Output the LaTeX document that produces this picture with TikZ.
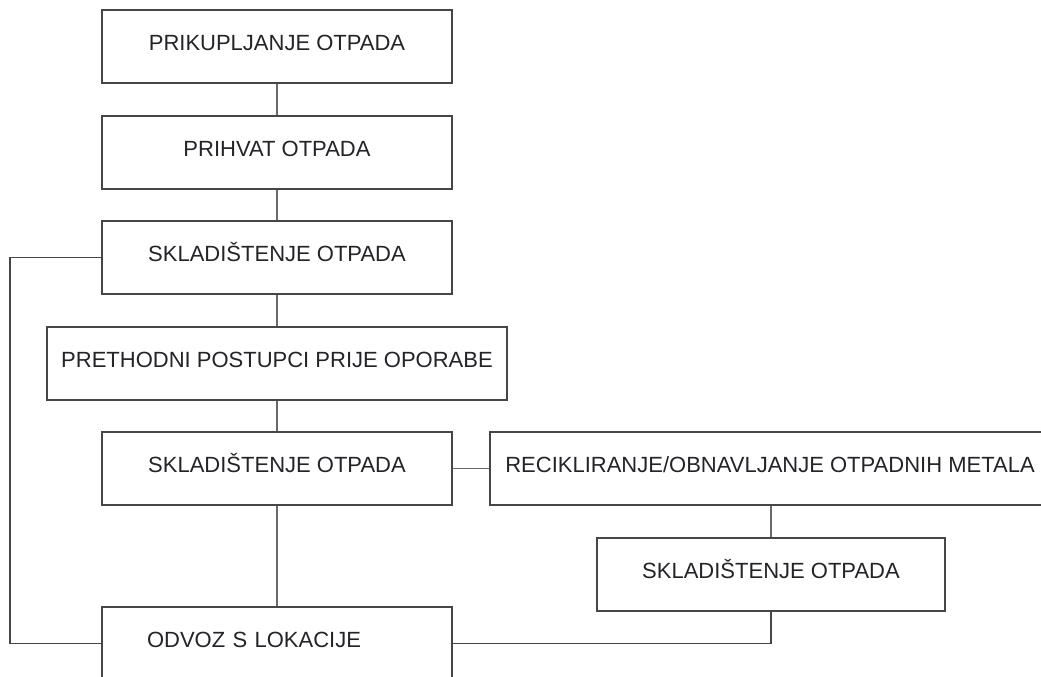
\documentclass[tikz,border=0pt]{standalone}
\usepackage{fontspec}
\setmainfont{Liberation Sans}
\usetikzlibrary{positioning,calc}
\definecolor{boxline}{RGB}{70,70,70}
\definecolor{linkline}{RGB}{105,105,105}
\definecolor{boxtext}{RGB}{35,35,40}

\tikzset{
  stagebox/.style={draw=boxline, line width=1.1pt, rectangle, minimum width=350pt,
    minimum height=73pt, inner sep=0pt, text height=15.8pt, text depth=8pt,
    text=boxtext, font=\fontsize{22pt}{25pt}\selectfont},
  link/.style={draw=linkline, line width=1.1pt}
}

\begin{document}
\begin{tikzpicture}[x=1pt,y=-1pt]
  \useasboundingbox (0,0) rectangle (1041,677);

  % Main chain
  \node[stagebox] (collect) at (277,46.5) {PRIKUPLJANJE OTPADA};
  \node[stagebox] (accept) at (277,152.5) {PRIHVAT OTPADA};
  \node[stagebox] (storeA) at (277,257.5) {SKLADIŠTENJE OTPADA};
  \node[stagebox, minimum width=460pt] (pretreat) at (277,363.5) {PRETHODNI POSTUPCI PRIJE OPORABE};
  \node[stagebox] (storeB) at (277,468.5) {SKLADIŠTENJE OTPADA};

  % Recycling branch
  \node[stagebox, minimum width=560pt] (recycle) at (770,468.5) {RECIKLIRANJE/OBNAVLJANJE OTPADNIH METALA};
  \node[stagebox, minimum width=348pt] (storeC) at (771,574.5) {SKLADIŠTENJE OTPADA};

  % Removal
  \node[stagebox, text width=260pt, align=left] (removal) at (277,643.5) {ODVOZ S LOKACIJE};

  % Connectors
  \draw[link] (collect) -- (accept);
  \draw[link] (accept) -- (storeA);
  \draw[link] (storeA) -- (pretreat);
  \draw[link] (pretreat) -- (storeB);
  \draw[link] (storeB) -- (removal);
  \draw[link] (storeB) -- (recycle);
  \draw[link] (recycle.south -| storeC.north) -- (storeC.north);
  \draw[link, draw=boxline] (storeC.south) |- (removal.east);

  % Left bypass
  \coordinate (bypass) at (10,257.5);
  \draw[link, draw=boxline] (storeA.west) -- (bypass) |- (removal.west);
\end{tikzpicture}
\end{document}
